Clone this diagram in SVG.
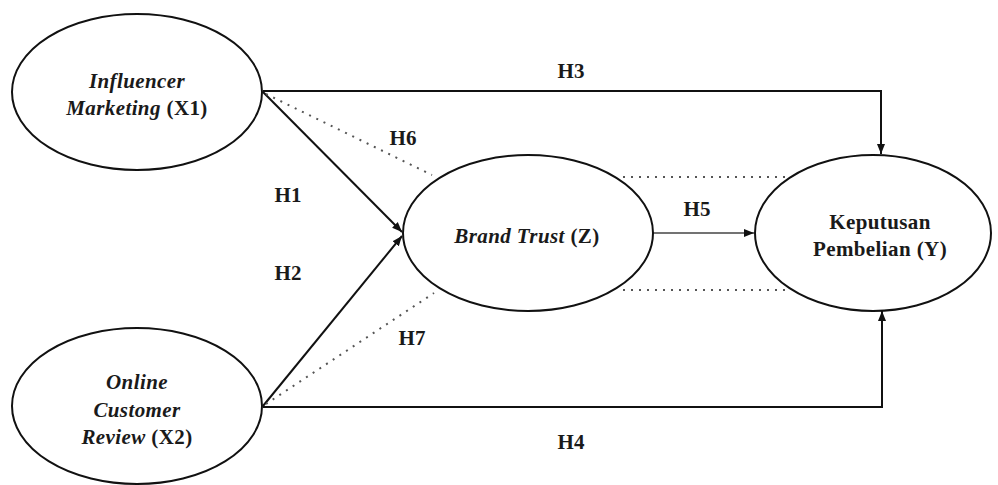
<svg xmlns="http://www.w3.org/2000/svg" width="998" height="485" viewBox="0 0 998 485">
<style>
.node ellipse{fill:#fff;stroke:#111;stroke-width:2}
text{font-family:"Liberation Serif","Times New Roman",serif;font-weight:bold;font-size:21px;fill:#1a1a1a;text-anchor:middle}
.node text{letter-spacing:0.4px}
.it{font-style:italic}
.solid{fill:none;stroke:#111;stroke-width:2}
.thin{fill:none;stroke:#444;stroke-width:1.4}
.dot{fill:none;stroke:#555;stroke-width:2;stroke-dasharray:2 6}
</style>
<defs>
<marker id="ah" viewBox="0 0 10 10" refX="10" refY="5" markerWidth="10" markerHeight="10" markerUnits="userSpaceOnUse" orient="auto">
<path d="M0,1 L10,5 L0,9 Z" fill="#111"/>
</marker>
</defs>
<rect width="998" height="485" fill="#fff"/>
<g id="connectors">
<polyline class="solid" points="263,91 881,91 881,154" marker-end="url(#ah)"/>
<polyline class="solid" points="263,407 882,407 882,311" marker-end="url(#ah)"/>
<line class="solid" x1="263" y1="92" x2="402" y2="232" marker-end="url(#ah)"/>
<line class="solid" x1="263" y1="406" x2="402" y2="236" marker-end="url(#ah)"/>
<line class="dot" x1="266" y1="94" x2="432" y2="175"/>
<line class="dot" x1="266" y1="404" x2="434" y2="293"/>
<line class="thin" x1="653" y1="233" x2="754" y2="233" marker-end="url(#ah)"/>
<line class="dot" x1="623" y1="177" x2="790" y2="177"/>
<line class="dot" x1="623" y1="290" x2="790" y2="290"/>
<text x="571" y="78">H3</text>
<text x="403" y="145">H6</text>
<text x="288" y="202">H1</text>
<text x="288" y="280">H2</text>
<text x="697" y="216">H5</text>
<text x="412" y="345">H7</text>
<text x="571" y="449">H4</text>
</g>
<g id="x1" class="node">
<ellipse cx="137" cy="92" rx="125" ry="78"/>
<text x="137" y="88" class="it">Influencer</text>
<text x="137" y="115"><tspan class="it">Marketing</tspan> (X1)</text>
</g>
<g id="x2" class="node">
<ellipse cx="137" cy="406" rx="125" ry="78"/>
<text x="137" y="389" class="it">Online</text>
<text x="137" y="417" class="it">Customer</text>
<text x="137" y="444"><tspan class="it">Review</tspan> (X2)</text>
</g>
<g id="z" class="node">
<ellipse cx="528" cy="233" rx="125" ry="78"/>
<text x="527" y="243"><tspan class="it">Brand Trust</tspan> (Z)</text>
</g>
<g id="y" class="node">
<ellipse cx="873" cy="233" rx="118" ry="78"/>
<text x="880" y="229">Keputusan</text>
<text x="880" y="256">Pembelian (Y)</text>
</g>
</svg>
